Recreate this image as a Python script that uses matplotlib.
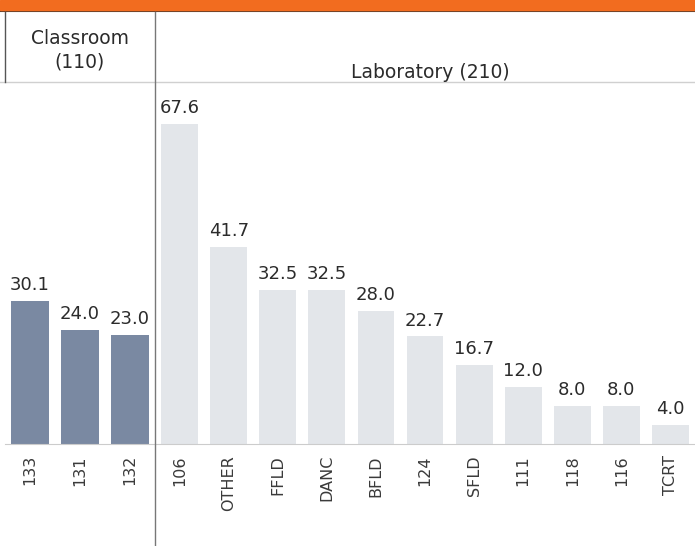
import matplotlib.pyplot as plt
from matplotlib.patches import Rectangle
from matplotlib.lines import Line2D

# data
class_rooms = ['133', '131', '132']
class_hours = [30.1, 24.0, 23.0]
lab_rooms = ['106', 'OTHER', 'FFLD', 'DANC', 'BFLD', '124', 'SFLD', '111', '118', '116', 'TCRT']
lab_hours = [67.6, 41.7, 32.5, 32.5, 28.0, 22.7, 16.7, 12.0, 8.0, 8.0, 4.0]

W, H = 695, 546
fig = plt.figure(figsize=(W / 100, H / 100), dpi=100)
plt.rcParams['font.family'] = ['DejaVu Sans']


def px(x0, y0, x1, y1):
    # pixel box (from top-left) -> figure fraction rect
    return [x0 / W, 1 - y1 / H, (x1 - x0) / W, (y1 - y0) / H]


ymax = 75.8
base_y = 444
top_y = 85
axes_spec = [
    (5, 155, class_rooms, class_hours, '#7a89a2'),
    (155, 695, lab_rooms, lab_hours, '#e3e6ea'),
]
for x0, x1, names, vals, color in axes_spec:
    ax = fig.add_axes(px(x0, top_y, x1, base_y))
    pos = range(len(names))
    ax.bar(pos, vals, width=0.75, color=color)
    for p, v in zip(pos, vals):
        ax.annotate(f'{v:.1f}', (p, v), xytext=(0, 5), textcoords='offset points',
                    ha='center', va='bottom', fontsize=13, color='#2b2b2b')
    ax.set_xlim(-0.5, len(names) - 0.5)
    ax.set_ylim(0, ymax)
    ax.set_xticks(list(pos))
    ax.set_xticklabels(names, rotation=90, fontsize=11.5, color='#3a3a3a')
    ax.tick_params(axis='x', length=0, pad=8)
    ax.set_yticks([])
    for s in ['top', 'left', 'right']:
        ax.spines[s].set_visible(False)
    ax.spines['bottom'].set_color('#cccccc')

# orange banner on top
fig.patches.append(Rectangle((0, 1 - 10 / H), 1, 10 / H, transform=fig.transFigure,
                             color='#f26c1f', zorder=5))
fig.lines.append(Line2D([0, 1], [1 - 11 / H, 1 - 11 / H], transform=fig.transFigure,
                        color='#5a3b2a', lw=1.5))

# header row and dividers
hy = 1 - 82 / H
fig.lines.append(Line2D([0, 1], [hy, hy], transform=fig.transFigure, color='#d0d0d0', lw=1))
fig.lines.append(Line2D([155 / W, 155 / W], [0, 1 - 12 / H], transform=fig.transFigure,
                        color='#777777', lw=1))
fig.lines.append(Line2D([5 / W, 5 / W], [hy, 1 - 12 / H], transform=fig.transFigure,
                        color='#555555', lw=1))

fig.text(80 / W, 1 - 50 / H, 'Classroom\n(110)', ha='center', va='center',
         fontsize=13.5, color='#2b2b2b', linespacing=1.3)
fig.text(430 / W, 1 - 72 / H, 'Laboratory (210)', ha='center', va='center',
         fontsize=13.5, color='#2b2b2b')

fig.savefig('out.png', dpi=100)
